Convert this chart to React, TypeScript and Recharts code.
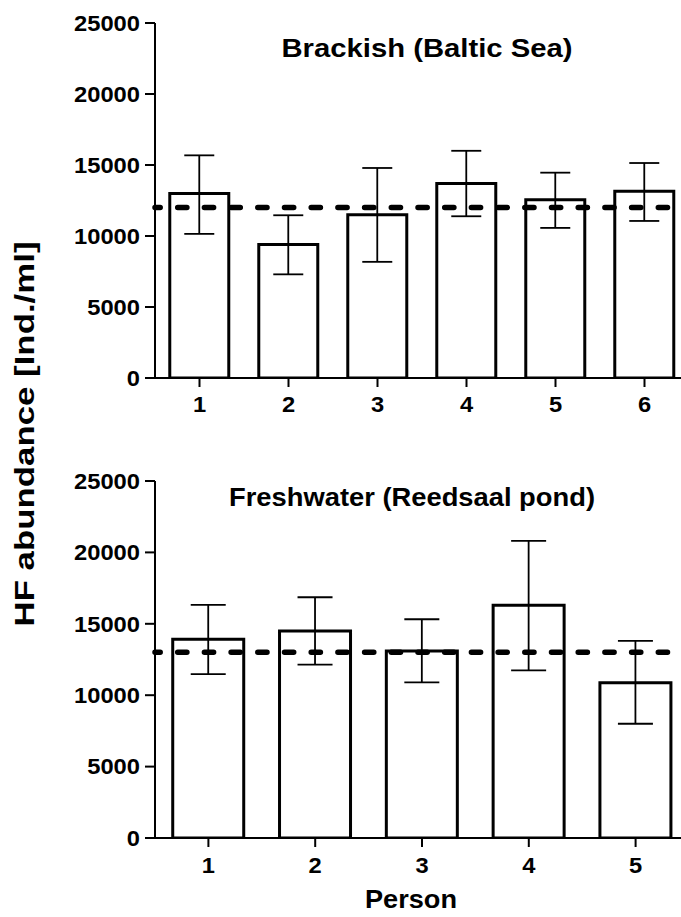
import React from 'react';
import { BarChart, Bar, XAxis, YAxis, ErrorBar, ReferenceLine } from 'recharts';

const FONT = '"Liberation Sans", Arial, sans-serif';

// Brackish (Baltic Sea)
const brackishPersons = ['1', '2', '3', '4', '5', '6'];
const brackishMeans = [13000, 9400, 11500, 13700, 12550, 13150];
const brackishUpper = [15680, 11460, 14790, 16000, 14460, 15140];
const brackishLower = [10150, 7300, 8180, 11390, 10570, 11060];
const brackishReference = 12000;

// Freshwater (Reedsaal pond)
const freshPersons = ['1', '2', '3', '4', '5'];
const freshMeans = [13920, 14500, 13100, 16300, 10880];
const freshUpper = [16320, 16860, 15320, 20810, 13800];
const freshLower = [11480, 12140, 10900, 11740, 8000];
const freshReference = 13000;

const yTicks = [0, 5000, 10000, 15000, 20000, 25000];

const build = (cats: string[], means: number[], upper: number[], lower: number[]) =>
  cats.map((c, i) => ({
    person: c,
    mean: means[i],
    err: [means[i] - lower[i], upper[i] - means[i]],
  }));

const brackishData = build(brackishPersons, brackishMeans, brackishUpper, brackishLower);
const freshData = build(freshPersons, freshMeans, freshUpper, freshLower);

const lineStyle = { stroke: '#000', strokeWidth: 2 };
const DIGIT_W = 13.2;

function YTick(props: any) {
  const { x, y, payload } = props;
  const label = String(payload.value);
  return (
    <text
      x={x}
      y={y}
      dy="0.355em"
      textAnchor="end"
      fontFamily={FONT}
      fontWeight="bold"
      fontSize={22}
      fill="#000"
      textLength={label.length * DIGIT_W}
      lengthAdjust="spacingAndGlyphs"
    >
      {label}
    </text>
  );
}

function XTick(props: any) {
  const { x, y, payload } = props;
  const label = String(payload.value);
  return (
    <text
      x={x}
      y={y}
      dy="0.71em"
      textAnchor="middle"
      fontFamily={FONT}
      fontWeight="bold"
      fontSize={22}
      fill="#000"
      textLength={label.length * DIGIT_W}
      lengthAdjust="spacingAndGlyphs"
    >
      {label}
    </text>
  );
}

function Panel({ data, refValue, top, capWidth, tickMargin }: { data: any[]; refValue: number; top: number; capWidth: number; tickMargin: number }) {
  return (
    <BarChart
      width={689}
      height={460}
      data={data}
      margin={{ top, right: 0, bottom: 52, left: 0 }}
      barCategoryGap="16.6%"
    >
      <XAxis
        dataKey="person"
        height={30}
        tickSize={9}
        tickMargin={tickMargin}
        tick={<XTick />}
        axisLine={lineStyle}
        tickLine={lineStyle}
        interval={0}
      />
      <YAxis
        domain={[0, 25000]}
        ticks={yTicks}
        width={155}
        tickSize={10}
        tickMargin={5}
        tick={<YTick />}
        axisLine={lineStyle}
        tickLine={lineStyle}
        interval={0}
        allowDataOverflow
      />
      <Bar dataKey="mean" fill="#fff" stroke="#000" strokeWidth={3} isAnimationActive={false}>
        <ErrorBar dataKey="err" width={capWidth} stroke="#000" strokeWidth={1.8} />
      </Bar>
      <ReferenceLine
        y={refValue}
        stroke="#000"
        strokeWidth={5.5}
        strokeDasharray="9.2 17.5"
        strokeDashoffset={4}
        strokeLinecap="round"
      />
    </BarChart>
  );
}

export default function App() {
  return (
    <div
      style={{
        position: 'absolute',
        left: 0,
        top: 0,
        width: 681,
        height: 917,
        overflow: 'hidden',
        background: '#fff',
      }}
    >
      <div style={{ position: 'absolute', left: 0, top: 0 }}>
        <Panel data={brackishData} refValue={brackishReference} top={23} capWidth={15} tickMargin={9} />
      </div>
      <div style={{ position: 'absolute', left: 0, top: 460 }}>
        <Panel data={freshData} refValue={freshReference} top={21} capWidth={17.5} tickMargin={10} />
      </div>
      <svg
        width={681}
        height={917}
        style={{ position: 'absolute', left: 0, top: 0, pointerEvents: 'none' }}
      >
        <g fontFamily={FONT} fontWeight="bold" fill="#000">
          <text x={427} y={57} fontSize={26} textAnchor="middle" textLength={291} lengthAdjust="spacingAndGlyphs">
            Brackish (Baltic Sea)
          </text>
          <text x={412} y={506} fontSize={26} textAnchor="middle" textLength={366} lengthAdjust="spacingAndGlyphs">
            Freshwater (Reedsaal pond)
          </text>
          <text x={411} y={908} fontSize={26} textAnchor="middle" textLength={92} lengthAdjust="spacingAndGlyphs">
            Person
          </text>
          <text
            transform="translate(34,434) rotate(-90)"
            fontSize={27}
            textAnchor="middle"
            textLength={385}
            lengthAdjust="spacingAndGlyphs"
          >
            HF abundance [Ind./ml]
          </text>
        </g>
      </svg>
    </div>
  );
}
